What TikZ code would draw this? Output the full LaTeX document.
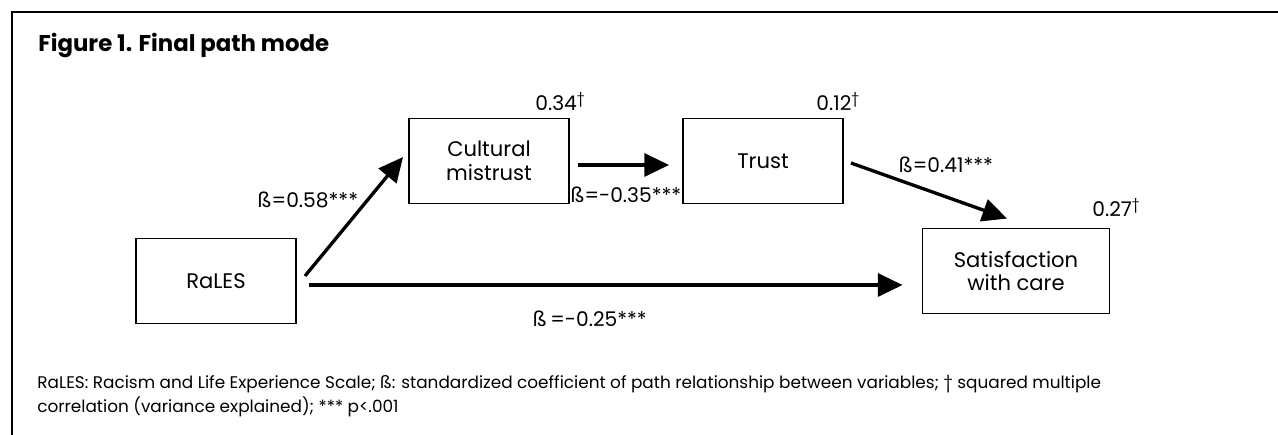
\documentclass[tikz,border=0pt]{standalone}
\usepackage{fontspec}
\setmainfont{Poppins}
\usetikzlibrary{math}
\usetikzlibrary{arrows.meta}

\tikzset{
	varbox/.style={draw, line width=1.1pt, minimum width=\boxwidth cm, minimum height=\boxheight cm,
		align=center, inner sep=0pt, font=\fontsize{12}{13.5}\selectfont},
	patharrow/.style={line width=1.9pt, -{Triangle[length=14pt, width=13pt]}},
	coef/.style={inner sep=0pt, font=\fontsize{11.5}{13}\selectfont},
}

\begin{document}
\begin{tikzpicture}[x=0.02cm, y=-0.02cm]
	% Constants
	\tikzmath{
		\boxwidth = 3.2; \satwidth = 3.74; \boxheight = 1.7;
	}
	\useasboundingbox (0,0) rectangle (1278,435);

	% Frame
	\draw[line width=1.7pt] (12,435) -- (12,12) -- (1278,12);
	% Title
	\node[anchor=base west, inner sep=0pt, font=\bfseries\fontsize{13}{15}\selectfont] (title) at (38,52) {Figure 1. Final path mode};

	% Variables
	\node[varbox] (rales) at (216,281) {RaLES};
	\node[varbox] (cult) at (489,161) {Cultural\\mistrust};
	\node[varbox] (trust) at (763,161) {Trust};
	\node[varbox, minimum width=\satwidth cm] (sat) at (1016,271) {Satisfaction\\with care};

	% Paths
	\draw[patharrow] ([shift={(8,-5)}]rales.east) -- ([shift={(-5,-4)}]cult.west);
	\draw[patharrow] ([shift={(12,4)}]rales.east) -- ([shift={(-19,14)}]sat.west);
	\draw[patharrow] ([shift={(8,4)}]cult.east) -- ([shift={(-13,4)}]trust.west);
	\draw[patharrow] ([shift={(7,2)}]trust.east) -- ([shift={(-9,-9)}]sat.north);

	% Path coefficients
	\node[coef] (b1) at (308,200) {ß=0.58***};
	\node[coef] (b2) at (626,195) {ß=-0.35***};
	\node[coef] (b3) at (946,165) {ß=0.41***};
	\node[coef] (b4) at (590,319) {ß\,=-0.25***};

	% Variance explained
	\node[coef, anchor=base west] (r1) at (535,111) {0.34\textsuperscript{†}};
	\node[coef, anchor=base west] (r2) at (816,111) {0.12\textsuperscript{†}};
	\node[coef, anchor=base west] (r3) at (1092,217) {0.27\textsuperscript{†}};

	% Note
	\node[anchor=north west, align=left, inner sep=0pt, font=\fontsize{9.6}{13.7}\selectfont] (note) at (37,375)
		{RaLES: Racism and Life Experience Scale; ß: standardized coefficient of path relationship between variables; † squared multiple\\
		correlation (variance explained); *** p<.001};
\end{tikzpicture}
\end{document}
